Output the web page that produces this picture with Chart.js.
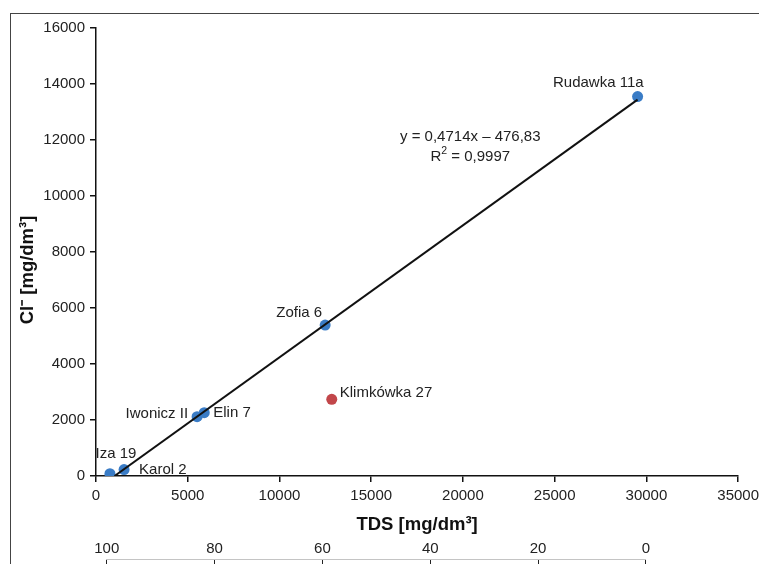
<!DOCTYPE html>
<html>
<head>
<meta charset="utf-8">
<script src="https://cdn.jsdelivr.net/npm/chart.js@4.4.1/dist/chart.umd.min.js"></script>
<style>
  body { margin: 0; background: #fff; }
  .wrap { position: relative; width: 759px; height: 564px; overflow: hidden; }
  .frame { position: absolute; left: 10px; top: 13px; right: -5px; bottom: -5px;
           border-left: 1.5px solid #444; border-top: 1.5px solid #444; pointer-events: none; }
  canvas { position: absolute; left: 0; top: 0; }
</style>
</head>
<body>
<div class="wrap">
  <canvas id="myChart" width="764" height="564"></canvas>
  <div class="frame"></div>
</div>
<script>
// wells: TDS vs chloride
const wellNames = ['Iza 19', 'Karol 2', 'Iwonicz II', 'Elin 7', 'Zofia 6', 'Klimkówka 27', 'Rudawka 11a']
const tdsValues = [760, 1530, 5510, 5900, 12490, 12850, 29520]
const chlorideValues = [80, 230, 2120, 2260, 5390, 2740, 13550]
const outlierWells = ['Klimkówka 27']

// regression line as drawn (ends)
const trendTds = [1010, 29520]
const trendChloride = [0, 13440]
const equationLines = ['y = 0,4714x – 476,83', 'R^2 = 0,9997']

const xTicks = [0, 5000, 10000, 15000, 20000, 25000, 30000, 35000]
const yTicks = [0, 2000, 4000, 6000, 8000, 10000, 12000, 14000, 16000]
const secondaryTicks = [100, 80, 60, 40, 20, 0]

// where the lower scale sits, in TDS units
const secondaryFromTds = 585
const secondaryToTds = 29975

const FONT = "'Liberation Sans', Arial, sans-serif"
const BLUE = '#3a7cc6'
const RED = '#c2464a'

// label offsets relative to the point (px)
const labelPlacement = {
    'Iza 19': { dx: 6, dy: -20, align: 'center' },
    'Karol 2': { dx: 15, dy: 0, align: 'left' },
    'Iwonicz II': { dx: -9, dy: -3, align: 'right' },
    'Elin 7': { dx: 9, dy: 0, align: 'left' },
    'Zofia 6': { dx: -3, dy: -12, align: 'right' },
    'Klimkówka 27': { dx: 8, dy: -6, align: 'left' },
    'Rudawka 11a': { dx: 6, dy: -14, align: 'right' }
}

let points = wellNames.map((n, i) => ({ x: tdsValues[i], y: chlorideValues[i] }))
let trend = trendTds.map((t, i) => ({ x: t, y: trendChloride[i] }))

// draw text, "^2" becomes superscript
function drawRich(ctx, text, x, y, size) {
    let parts = text.split(/\^(\S)/)
    let widths = parts.map((p, i) => {
        ctx.font = `${i % 2 ? size * 0.7 : size}px ${FONT}`
        return ctx.measureText(p).width
    })
    let total = widths.reduce((a, b) => a + b, 0)
    let cx = x - total / 2
    ctx.textAlign = 'left'
    ctx.textBaseline = 'middle'
    parts.forEach((p, i) => {
        let sup = i % 2 === 1
        ctx.font = `${sup ? size * 0.7 : size}px ${FONT}`
        ctx.fillText(p, cx, sup ? y - size * 0.35 : y)
        cx += widths[i]
    })
}

const labelsPlugin = {
    id: 'wellLabels',
    afterDatasetsDraw(chart) {
        const { ctx, scales } = chart
        ctx.save()
        ctx.fillStyle = '#222'
        ctx.font = `15px ${FONT}`
        ctx.textBaseline = 'middle'
        wellNames.forEach((name, i) => {
            let p = labelPlacement[name]
            ctx.textAlign = p.align
            ctx.fillText(name,
                scales.x.getPixelForValue(tdsValues[i]) + p.dx,
                scales.y.getPixelForValue(chlorideValues[i]) + p.dy)
        })
        // equation near 20400 / 12130
        let ex = scales.x.getPixelForValue(20400)
        let ey = scales.y.getPixelForValue(12130)
        equationLines.forEach((line, k) => drawRich(ctx, line, ex, ey + k * 20, 15))
        ctx.restore()
    }
}

const secondaryAxisPlugin = {
    id: 'secondarySpan',
    afterLayout(chart) {
        const x = chart.scales.x
        const x2 = chart.scales.x2
        x2.left = x.getPixelForValue(secondaryFromTds)
        x2.right = x.getPixelForValue(secondaryToTds)
        x2.width = x2.right - x2.left
        x2.configure()
    }
}

const plain = v => String(v)

const ctx = document.getElementById('myChart')

new Chart(ctx, {
    type: 'scatter',
    data: {
        datasets: [{
            type: 'line',
            data: trend,
            borderColor: '#111',
            borderWidth: 2,
            pointRadius: 0,
            fill: false
        }, {
            data: points,
            pointRadius: 5.5,
            pointHoverRadius: 5.5,
            pointBorderWidth: 0,
            pointBackgroundColor: wellNames.map(n => outlierWells.includes(n) ? RED : BLUE)
        }]
    },
    options: {
        responsive: false,
        animation: false,
        layout: { padding: { left: 0, top: 28, right: 21, bottom: 0 } },
        plugins: { legend: { display: false }, tooltip: { enabled: false } },
        scales: {
            x: {
                type: 'linear',
                position: 'bottom',
                min: xTicks[0],
                max: xTicks[xTicks.length - 1],
                afterBuildTicks: s => { s.ticks = xTicks.map(v => ({ value: v })) },
                afterFit: s => { s.height = 83 },
                grid: { drawOnChartArea: false, tickLength: 6, color: '#111', lineWidth: 1.5 },
                border: { color: '#111', width: 1.5 },
                ticks: { color: '#222', padding: 5, font: { family: FONT, size: 15 }, maxRotation: 0, callback: plain },
                title: {
                    display: true,
                    text: 'TDS [mg/dm³]',
                    color: '#111',
                    font: { family: FONT, size: 18.5, weight: 'bold' },
                    padding: { top: 0, bottom: 23 }
                }
            },
            x2: {
                type: 'linear',
                position: 'bottom',
                weight: 1,
                min: 0,
                max: 100,
                reverse: true,
                afterBuildTicks: s => { s.ticks = secondaryTicks.map(v => ({ value: v })) },
                afterFit: s => { s.height = 5 },
                grid: { drawOnChartArea: false, tickLength: 6, color: '#222', lineWidth: 1 },
                border: { color: '#c4c4c4', width: 1 },
                ticks: { color: '#222', mirror: true, padding: 1, font: { family: FONT, size: 15 }, maxRotation: 0, callback: plain }
            },
            y: {
                type: 'linear',
                min: yTicks[0],
                max: yTicks[yTicks.length - 1],
                afterBuildTicks: s => { s.ticks = yTicks.map(v => ({ value: v })) },
                afterFit: s => { s.width = 96 },
                grid: { drawOnChartArea: false, tickLength: 6, color: '#111', lineWidth: 1.5 },
                border: { color: '#111', width: 1.5 },
                ticks: { color: '#222', padding: 5, font: { family: FONT, size: 15 }, callback: plain },
                title: {
                    display: true,
                    text: 'Cl⁻ [mg/dm³]       ',
                    color: '#111',
                    font: { family: FONT, size: 18.5, weight: 'bold' },
                    padding: { top: 17, bottom: 0 }
                }
            }
        }
    },
    plugins: [labelsPlugin, secondaryAxisPlugin]
})
</script>
</body>
</html>
